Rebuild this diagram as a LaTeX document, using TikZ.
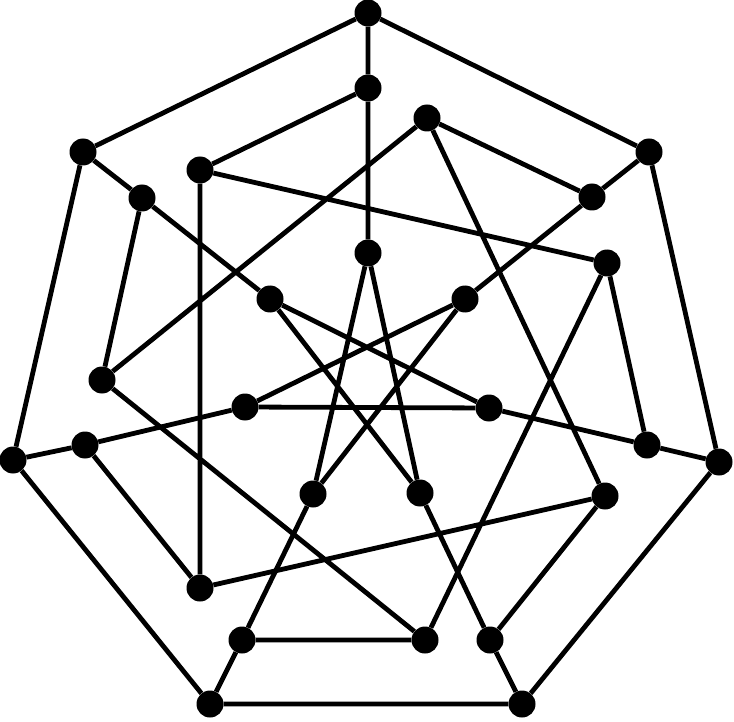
\documentclass[tikz,border=0pt]{standalone}
\begin{document}
\begin{tikzpicture}[x=1pt,y=-1pt,
  vtx/.style={circle,fill=black,inner sep=0pt,minimum size=27pt},
  edge/.style={line width=4.8pt,black}]
\useasboundingbox (0,0) rectangle (734,722);
% outer heptagon
\node[vtx] (O1) at (368,13) {};
\node[vtx] (O2) at (649,152) {};
\node[vtx] (O3) at (719,462) {};
\node[vtx] (O4) at (522,704) {};
\node[vtx] (O5) at (210,704) {};
\node[vtx] (O6) at (13,460) {};
\node[vtx] (O7) at (83,152) {};
% claw centres
\node[vtx] (A1) at (368,88) {};
\node[vtx] (A2) at (592,197) {};
\node[vtx] (A3) at (647,445) {};
\node[vtx] (A4) at (490,640) {};
\node[vtx] (A5) at (242,640) {};
\node[vtx] (A6) at (85,445) {};
\node[vtx] (A7) at (142,198) {};
% middle ring
\node[vtx] (B1) at (427,118) {};
\node[vtx] (B2) at (607,263) {};
\node[vtx] (B3) at (605,496) {};
\node[vtx] (B4) at (425,640) {};
\node[vtx] (B5) at (200,588) {};
\node[vtx] (B6) at (102,380) {};
\node[vtx] (B7) at (200,170) {};
% inner star
\node[vtx] (S1) at (368,253) {};
\node[vtx] (S2) at (465,299) {};
\node[vtx] (S3) at (489,408) {};
\node[vtx] (S4) at (420,493) {};
\node[vtx] (S5) at (313,494) {};
\node[vtx] (S6) at (245,407) {};
\node[vtx] (S7) at (270,299) {};
% outer cycle
\draw[edge] (O1)--(O2) (O2)--(O3) (O3)--(O4) (O4)--(O5) (O5)--(O6) (O6)--(O7) (O7)--(O1);
% spokes
\draw[edge] (O1)--(A1) (O2)--(A2) (O3)--(A3) (O4)--(A4) (O5)--(A5) (O6)--(A6) (O7)--(A7);
% claws
\draw[edge] (A1)--(B7) (A1)--(S1);
\draw[edge] (A2)--(B1) (A2)--(S2);
\draw[edge] (A3)--(B2) (A3)--(S3);
\draw[edge] (A4)--(B3) (A4)--(S4);
\draw[edge] (A5)--(B4) (A5)--(S5);
\draw[edge] (A6)--(B5) (A6)--(S6);
\draw[edge] (A7)--(B6) (A7)--(S7);
% middle cycle
\draw[edge] (B7)--(B2) (B2)--(B4) (B4)--(B6) (B6)--(B1) (B1)--(B3) (B3)--(B5) (B5)--(B7);
% inner star
\draw[edge] (S1)--(S4) (S4)--(S7) (S7)--(S3) (S3)--(S6) (S6)--(S2) (S2)--(S5) (S5)--(S1);
\end{tikzpicture}
\end{document}
